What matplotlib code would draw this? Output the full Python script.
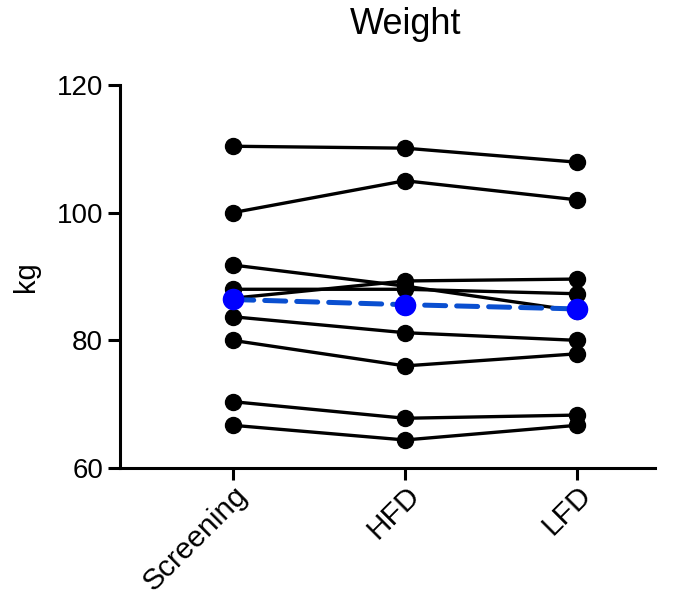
import matplotlib
matplotlib.use('Agg')
import matplotlib.pyplot as plt
import numpy as np

plt.rcParams['font.family'] = ['Liberation Sans', 'DejaVu Sans']

timepoints = ['Screening', 'HFD', 'LFD']

# one row per subject: Screening, HFD, LFD (kg)
subjects = [
    [110.4, 110.1, 107.9],
    [100.0, 105.0, 102.0],
    [91.8, 88.5, 84.6],
    [88.0, 88.0, 87.3],
    [86.6, 89.3, 89.6],
    [83.7, 81.2, 80.0],
    [80.0, 76.0, 77.9],
    [70.4, 67.8, 68.3],
    [66.7, 64.4, 66.7],
]

weights = np.array(subjects)
mean_weight = weights.mean(axis=0)
x = np.arange(len(timepoints))

fig = plt.figure(figsize=(6.85, 5.94), dpi=100)
ax = fig.add_axes([0.175, 0.212, 0.781, 0.645])

for row in weights:
    ax.plot(x, row, color='black', lw=2.4, marker='o', ms=11.5,
            solid_capstyle='round', zorder=2)

ax.plot(x, mean_weight, color='#0a4fd0', lw=3.6, ls=(0, (4.2, 2.2)),
        dash_capstyle='round', zorder=3)
ax.plot(x, mean_weight, ls='none', marker='o', ms=14.5, color='#0000ff',
        zorder=4)

ax.set_ylim(60, 120)
ax.set_yticks([60, 80, 100, 120])
ax.set_xlim(-0.655, 2.45)
ax.set_xticks(x)
ax.set_xticklabels(timepoints, rotation=45, ha='right', rotation_mode='anchor')

for side in ['top', 'right']:
    ax.spines[side].set_visible(False)
for side in ['left', 'bottom']:
    ax.spines[side].set_linewidth(2.2)
ax.tick_params(axis='both', width=2.2, length=8.5, labelsize=20)
ax.tick_params(axis='x', labelsize=21.5, pad=0.5)

ax.set_ylabel('kg', fontsize=21, labelpad=12)
fig.text(406 / 685, 1 - 25 / 594, 'Weight', fontsize=26,
         ha='center', va='center')

fig.savefig('out.png', dpi=100)
